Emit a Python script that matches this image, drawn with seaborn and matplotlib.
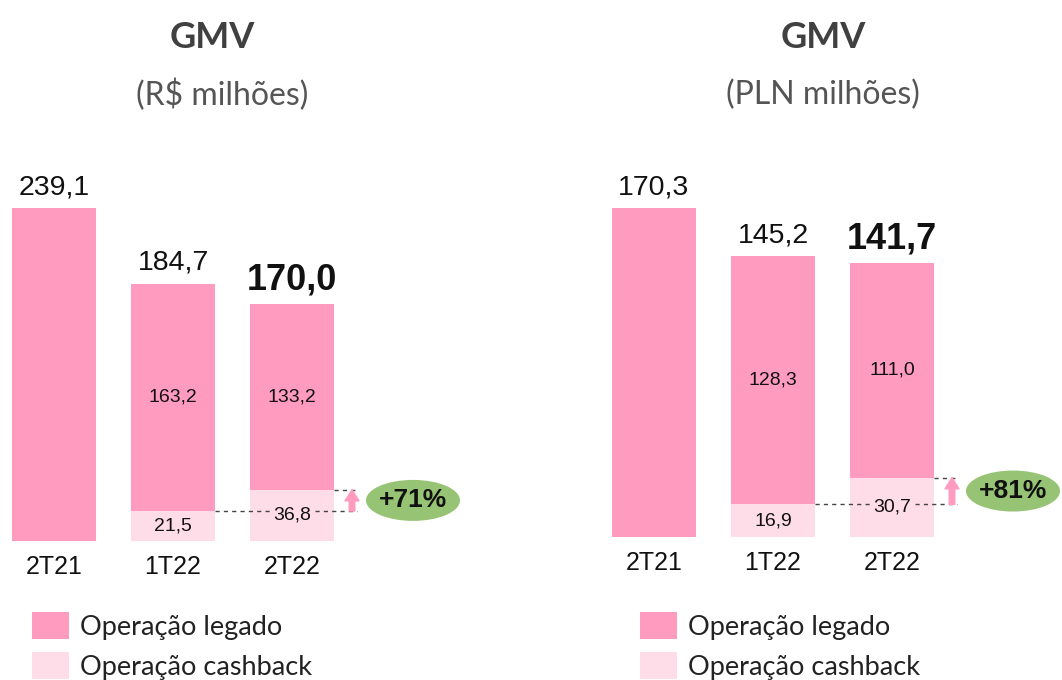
import matplotlib.pyplot as plt
from matplotlib.patches import Ellipse, Rectangle
import seaborn as sns

# dados
periods = ['2T21', '1T22', '2T22']
brl_legado = [239.1, 163.2, 133.2]
brl_cashback = [0.0, 21.5, 36.8]
brl_total = ['239,1', '184,7', '170,0']
pln_legado = [170.3, 128.3, 111.0]
pln_cashback = [0.0, 16.9, 30.7]
pln_total = ['170,3', '145,2', '141,7']
growth = ['+71%', '+81%']
subtitles = ['(R$ milhões)', '(PLN milhões)']
legend_labels = ['Operação legado', 'Operação cashback']

PINK = '#FF9BBF'
LIGHT = '#FFDDE8'
GREEN = '#97C474'
NUM_FONT = 'Liberation Sans'
TXT_FONT = 'Lato'

sns.set_theme(style='white')
plt.rcParams['font.family'] = [TXT_FONT, 'DejaVu Sans']

W, H = 1062, 680
fig = plt.figure(figsize=(W / 100, H / 100), dpi=100)

BW = 84 / 119  # largura da barra


def fig_box(left, bottom_px, right, top_px):
    return [left / W, 1 - bottom_px / H, (right - left) / W, (bottom_px - top_px) / H]


def panel(ax, legado, cashback, totals, pct, ppu):
    tot = [a + b for a, b in zip(legado, cashback)]
    sns.barplot(x=periods, y=tot, color=PINK, saturation=1, width=BW, ax=ax)
    sns.barplot(x=periods, y=cashback, color=LIGHT, saturation=1, width=BW, ax=ax)
    for p in ax.patches:
        p.set_linewidth(0)

    # rótulos de total
    for i, t in enumerate(totals):
        last = i == len(totals) - 1
        off = 21 if not last else 24
        ax.text(i, tot[i] + off / ppu, t, ha='center', va='center',
                fontsize=26 if last else 20.5, fontweight='bold' if last else 'normal',
                family=NUM_FONT, color='#111111')

    # rótulos internos
    for i in range(1, len(periods)):
        ax.text(i, cashback[i] + legado[i] / 2, f'{legado[i]:.1f}'.replace('.', ','),
                ha='center', va='center', fontsize=14, family=NUM_FONT, color='#111111')
        ax.text(i, cashback[i] / 2, f'{cashback[i]:.1f}'.replace('.', ','),
                ha='center', va='center', fontsize=14, family=NUM_FONT, color='#111111',
                zorder=5, bbox=dict(facecolor=LIGHT, edgecolor='none', pad=1))

    # linhas tracejadas + seta
    x_end = 2 + 65 / 119
    ax.plot([1 + BW / 2, x_end], [cashback[1], cashback[1]], color='#444444',
            lw=1, ls=(0, (3, 3)), zorder=3, clip_on=False)
    ax.plot([2 + BW / 2, x_end], [cashback[2], cashback[2]], color='#444444',
            lw=1, ls=(0, (3, 3)), zorder=3, clip_on=False)
    ax_x = 2 + 60 / 119
    ax.annotate('', xy=(ax_x, cashback[2]), xytext=(ax_x, cashback[1]),
                arrowprops=dict(arrowstyle='simple,head_length=0.8,head_width=1.0,tail_width=0.4',
                                color=PINK, shrinkA=0, shrinkB=0, mutation_scale=10))
    yc = (cashback[1] + cashback[2]) / 2
    xc = 2 + 121 / 119
    ax.add_patch(Ellipse((xc, yc), 94 / 119, 41 / ppu, facecolor=GREEN,
                         edgecolor='none', clip_on=False))
    ax.text(xc, yc, pct, ha='center', va='center', fontsize=19, fontweight='bold',
            family=NUM_FONT, color='#111111')

    ax.set_xlabel('')
    ax.set_ylabel('')
    ax.set_yticks([])
    sns.despine(ax=ax, left=True, bottom=True)
    ax.tick_params(axis='x', length=0, pad=10)
    for lab in ax.get_xticklabels():
        lab.set_fontfamily(NUM_FONT)
        lab.set_fontsize(18)
        lab.set_color('#111111')


# painel esquerdo (R$)
ppu_l = 333 / 239.1
ax1 = fig.add_axes(fig_box(0, 541, 520, 150))
panel(ax1, brl_legado, brl_cashback, brl_total, growth[0], ppu_l)
ax1.set_xlim(-54 / 119, 466 / 119)
ax1.set_ylim(0, 391 / ppu_l)

# painel direito (PLN)
ppu_r = 329 / 170.3
ax2 = fig.add_axes(fig_box(600, 537, 1062, 150))
panel(ax2, pln_legado, pln_cashback, pln_total, growth[1], ppu_r)
ax2.set_xlim(-54 / 119, 408 / 119)
ax2.set_ylim(0, 387 / ppu_r)

# títulos
for cx, sub in zip([212, 823], subtitles):
    fig.text(cx / W, 1 - 38 / H, 'GMV', ha='center', va='center', fontsize=26,
             fontweight='bold', color='#404040')
    fig.text(cx / W + (10 / W if sub.startswith('(R') else 0), 1 - 95 / H, sub,
             ha='center', va='center', fontsize=23, color='#555555')

# legendas
for lx in [32, 640]:
    for j, (lab, col) in enumerate(zip(legend_labels, [PINK, LIGHT])):
        y0 = 612 + 40 * j
        fig.add_artist(Rectangle((lx / W, 1 - (y0 + 27) / H), 37 / W, 27 / H,
                                 transform=fig.transFigure, facecolor=col, edgecolor='none'))
        fig.text((lx + 48) / W, 1 - (y0 + 15) / H, lab, ha='left', va='center',
                 fontsize=19.5, color='#222222')

fig.savefig('out.png', dpi=100)
